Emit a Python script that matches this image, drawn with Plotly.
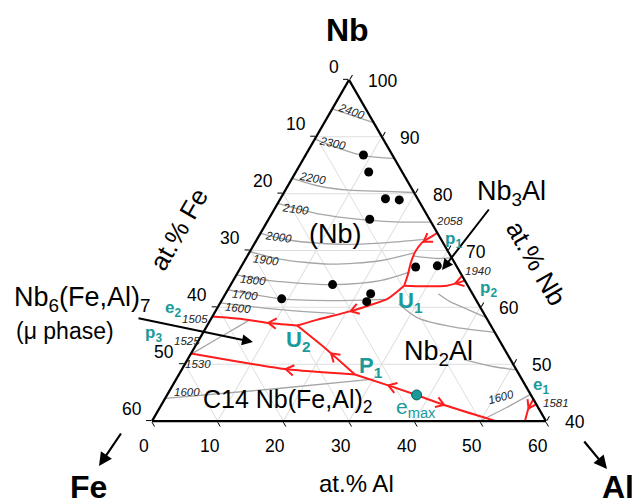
import math
import plotly.graph_objects as go

W, H = 632, 504
FONT = "Liberation Sans, Arial, sans-serif"
RED = "#ff1c1c"
TEAL = "#1b9a9a"
GREY = "#a6a6a6"
GRID = "#dedede"

# ---------------- axis ticks (at.%) ----------------
fe_ticks = [0, 10, 20, 30, 40, 50, 60]
nb_ticks = [100, 90, 80, 70, 60, 50, 40]
al_ticks = [0, 10, 20, 30, 40, 50, 60]

# ---------------- alloy compositions (at.%) ----------------
alloy_nb = [86.8, 83.8, 79.1, 78.9, 75.5, 67.1, 67.3, 64.0, 61.5, 62.4, 61.0]
alloy_fe = [4.4, 5.1, 4.9, 2.9, 9.1, 6.3, 2.9, 20.5, 29.5, 15.5, 16.8]
alloy_al = [8.8, 11.1, 16.0, 18.2, 15.4, 26.6, 29.8, 15.5, 9.0, 22.1, 22.2]

# saddle point on the C14 / Nb2Al valley
emax_nb, emax_fe, emax_al = [44.6], [17.4], [38.0]

# ---------------- monovariant valleys, ordered with falling temperature ----------------
p1_u1_nb = [73.1, 72.3, 71.3, 69.8, 67.8, 65.7, 63.8]
p1_u1_fe = [0.0, 1.5, 3.3, 5.0, 6.7, 8.2, 9.7]
p1_u1_al = [26.9, 26.2, 25.4, 25.2, 25.5, 26.1, 26.5]

p2_u1_nb = [64.7, 63.8, 63.7, 63.8]
p2_u1_fe = [0.0, 3.2, 6.9, 9.7]
p2_u1_al = [35.3, 33.0, 29.4, 26.5]

u1_u2_nb = [63.8, 61.6, 60.2, 59.3, 57.8, 56.8]
u1_u2_fe = [9.7, 13.2, 17.2, 20.2, 26.0, 29.5]
u1_u2_al = [26.5, 25.2, 22.6, 20.5, 16.2, 13.7]

u2_e2_nb = [56.8, 57.3, 58.0, 58.4]
u2_e2_fe = [29.5, 33.9, 37.6, 41.6]
u2_e2_al = [13.7, 8.8, 4.4, 0.0]

P1_u2_nb = [48.2, 52.6, 56.8]
P1_u2_fe = [25.0, 27.1, 29.5]
P1_u2_al = [26.8, 20.3, 13.7]

P1_p3_nb = [48.2, 49.1, 50.4, 51.9]
P1_p3_fe = [25.0, 34.9, 41.4, 48.1]
P1_p3_al = [26.8, 16.0, 8.2, 0.0]

emax_P1_nb = [44.6, 46.2, 48.2]
emax_P1_fe = [17.4, 20.7, 25.0]
emax_P1_al = [38.0, 33.1, 26.8]

emax_out_nb = [44.6, 42.7, 40.0]
emax_out_fe = [17.4, 13.8, 7.6]
emax_out_al = [38.0, 43.5, 52.4]

e1_nb = [43.85, 42.1, 40.0]
e1_fe = [0.0, 1.65, 3.2]
e1_al = [56.15, 56.25, 56.8]

# position of the flow arrow along each valley (fraction of its length)
valleys = [
    (p1_u1_nb, p1_u1_fe, p1_u1_al, 0.25),
    (p2_u1_nb, p2_u1_fe, p2_u1_al, 0.16),
    (u1_u2_nb, u1_u2_fe, u1_u2_al, 0.52),
    (u2_e2_nb, u2_e2_fe, u2_e2_al, 0.34),
    (P1_u2_nb, P1_u2_fe, P1_u2_al, 0.42),
    (P1_p3_nb, P1_p3_fe, P1_p3_al, 0.42),
    (emax_P1_nb, emax_P1_fe, emax_P1_al, 0.46),
    (emax_out_nb, emax_out_fe, emax_out_al, 0.35),
    (e1_nb, e1_fe, e1_al, 0.45),
]

# ---------------- liquidus isotherms ----------------
iso_2400 = ([94.9, 93.6, 92.5], [5.1, 2.3, 0.0], [0.0, 4.1, 7.5])
iso_2300 = ([89.6, 87.9, 86.7, 86.2], [10.4, 7.4, 4.5, 0.0], [0.0, 4.7, 8.8, 13.8])
iso_2200 = ([82.7, 81.3, 80.6, 80.4, 80.2], [17.3, 13.8, 9.6, 4.3, 0.0], [0.0, 4.9, 9.8, 15.3, 19.8])
iso_2100 = ([78.3, 76.4, 75.3, 75.0, 75.0], [21.7, 16.2, 9.1, 4.7, 0.0], [0.0, 7.4, 15.6, 20.3, 25.0])
iso_2000 = ([73.0, 71.8, 71.1, 71.3, 72.0], [27.0, 23.1, 15.8, 9.6, 2.1], [0.0, 5.1, 13.1, 19.1, 25.9])
iso_1900 = ([69.8, 68.5, 67.6, 68.2, 69.6], [30.2, 26.3, 19.1, 11.2, 5.3], [0.0, 5.2, 13.3, 20.6, 25.1])
iso_1800 = ([65.7, 64.7, 64.0, 64.7, 66.2], [34.3, 29.7, 20.4, 12.9, 7.7], [0.0, 5.6, 15.6, 22.4, 26.1])
iso_1700 = ([63.1, 61.5, 61.2, 61.4], [36.9, 29.4, 20.8, 13.8], [0.0, 9.1, 18.0, 24.8])
iso_1600 = ([60.8, 59.6, 58.9], [39.2, 30.7, 22.7], [0.0, 9.7, 18.4])
iso_nb3al = ([69.0, 68.6, 68.7], [5.6, 2.5, 0.0], [25.4, 28.9, 31.3])
iso_nb2al_a = ([62.4, 61.0, 59.7, 58.2], [5.2, 4.1, 2.2, 0.0], [32.4, 34.9, 38.1, 41.8])
iso_nb2al_b = ([60.6, 58.1, 56.6, 55.6], [12.1, 10.4, 6.1, 0.0], [27.3, 31.5, 37.3, 44.4])
iso_nb2al_c = ([50.8, 49.6, 49.0], [7.1, 3.3, 0.0], [42.1, 47.1, 51.0])
iso_c14 = ([44.0, 45.6, 47.4], [56.0, 39.2, 22.6], [0.0, 15.2, 30.0])
iso_mu = ([51.7, 54.8, 57.8], [48.3, 42.2, 36.2], [0.0, 3.0, 6.0])
iso_al_rich = ([40.0, 42.4, 44.7], [10.1, 4.8, 0.0], [49.9, 52.8, 55.3])
isotherms = [iso_2400, iso_2300, iso_2200, iso_2100, iso_2000, iso_1900, iso_1800,
             iso_1700, iso_1600, iso_nb3al, iso_nb2al_a, iso_nb2al_b, iso_nb2al_c,
             iso_c14, iso_mu, iso_al_rich]

# ---------------- ternary frame geometry ----------------
DOM_X = [152 / W, 546 / W]
DOM_Y = [1 - 422 / H, 1 - 79 / H]
SIDE_PX = (DOM_X[1] - DOM_X[0]) * W
PX_PER_UNIT = SIDE_PX / 60.0          # the visible triangle spans 60 at.%
S3 = math.sqrt(3)
CX = (DOM_X[0] + DOM_X[1]) / 2 * W
BOTTOM = (1 - (DOM_Y[0] + DOM_Y[1]) / 2) * H + SIDE_PX * S3 / 4


def to_xy(nb, fe, al):
    s = nb + fe + al
    nb, fe, al = 100 * nb / s, 100 * fe / s, 100 * al / s
    return (al - fe) / 2.0, nb * S3 / 2.0


def to_abc(x, y):
    nb = 2 * y / S3
    rest = 100 - nb
    return nb, (rest - 2 * x) / 2.0, (rest + 2 * x) / 2.0


def to_px(nb, fe, al):
    """Screen position (pixels, y downwards) of a composition in the frame."""
    x, y = to_xy(nb, fe, al)
    return CX + x * PX_PER_UNIT, BOTTOM - (y - 40 * S3 / 2) * PX_PER_UNIT


def chevron(nbs, fes, als, frac, wing_px=9.5, half_angle=33.0):
    pts = [to_xy(a, b, c) for a, b, c in zip(nbs, fes, als)]
    seg = [math.dist(pts[i], pts[i + 1]) for i in range(len(pts) - 1)]
    target = frac * sum(seg)
    acc = 0.0
    for i, L in enumerate(seg):
        if acc + L >= target or i == len(seg) - 1:
            t = (target - acc) / L
            (x0, y0), (x1, y1) = pts[i], pts[i + 1]
            tip = (x0 + t * (x1 - x0), y0 + t * (y1 - y0))
            ux, uy = (x1 - x0) / L, (y1 - y0) / L
            break
        acc += L
    wl = wing_px / PX_PER_UNIT
    out = []
    for sgn in (1, -1):
        ang = math.radians(sgn * half_angle)
        bx = -(ux * math.cos(ang) - uy * math.sin(ang))
        by = -(ux * math.sin(ang) + uy * math.cos(ang))
        out.append((tip[0] + wl * bx, tip[1] + wl * by))
    return [to_abc(*out[0]), to_abc(*tip), to_abc(*out[1])]


fig = go.Figure()

# isotherms
for nbs, fes, als in isotherms:
    fig.add_trace(go.Scatterternary(
        a=nbs, b=fes, c=als, mode="lines",
        line=dict(color=GREY, width=1.3, shape="spline", smoothing=0.8),
        hoverinfo="skip", showlegend=False))

# valleys and flow chevrons
chev_a, chev_b, chev_c = [], [], []
for nbs, fes, als, frac in valleys:
    fig.add_trace(go.Scatterternary(
        a=nbs, b=fes, c=als, mode="lines",
        line=dict(color=RED, width=2, shape="spline", smoothing=0.6),
        hoverinfo="skip", showlegend=False))
    for a, b, c in chevron(nbs, fes, als, frac):
        chev_a.append(a); chev_b.append(b); chev_c.append(c)
    chev_a.append(None); chev_b.append(None); chev_c.append(None)
fig.add_trace(go.Scatterternary(
    a=chev_a, b=chev_b, c=chev_c, mode="lines", connectgaps=False,
    line=dict(color=RED, width=2), hoverinfo="skip", showlegend=False))

# alloys
fig.add_trace(go.Scatterternary(
    a=alloy_nb, b=alloy_fe, c=alloy_al, mode="markers",
    marker=dict(color="black", size=9), showlegend=False))
fig.add_trace(go.Scatterternary(
    a=emax_nb, b=emax_fe, c=emax_al, mode="markers",
    marker=dict(color=TEAL, size=10, line=dict(color="#0d5c5c", width=1)),
    showlegend=False))

axis_common = dict(
    showticklabels=False, ticks="outside", ticklen=5, tickwidth=1, tickcolor="black",
    linecolor="black", linewidth=2.2, showgrid=True, gridcolor=GRID, gridwidth=1,
    title=dict(text=""), dtick=10,
)

fig.update_layout(
    width=W, height=H,
    margin=dict(l=0, r=0, t=0, b=0),
    paper_bgcolor="white",
    font=dict(family=FONT, color="black"),
    ternary=dict(
        sum=100, bgcolor="white",
        domain=dict(x=DOM_X, y=DOM_Y),
        aaxis=dict(min=40, **axis_common),
        baxis=dict(min=0, **axis_common),
        caxis=dict(min=0, **axis_common),
    ),
)


def px(x):
    return x / W


def py(y):
    return 1 - y / H


notes = []


def note(text, x, y, size, color="black", angle=0, xanchor="center", italic=False):
    f = dict(family=FONT, size=size, color=color)
    if italic:
        f["style"] = "italic"
    notes.append(dict(text=text, x=px(x), y=py(y), xref="paper", yref="paper",
                      xanchor=xanchor, yanchor="middle", showarrow=False,
                      font=f, textangle=angle, borderpad=0))


def arrow(x0, y0, x1, y1, width=2.2, size=1.2):
    notes.append(dict(text="", x=px(x1), y=py(y1), xref="paper", yref="paper",
                      ax=x0 - x1, ay=y0 - y1, showarrow=True, arrowhead=2,
                      arrowsize=size, arrowwidth=width, arrowcolor="black"))


# tick labels sit on the outward extension of each grid line
TICK = 17.5
for v in fe_ticks:
    x, y = to_px(100 - v, v, 0)
    note(str(v), x - 9.5, y - 12.5, TICK, xanchor="right")
for v in nb_ticks:
    x, y = to_px(v, 0, 100 - v)
    note(str(v), x + 17.5, y + 1, TICK, xanchor="left")
for v in al_ticks:
    x, y = to_px(40, 60 - v, v)
    note(str(v), x - 8, y + 25, TICK)

# corner elements and axis captions
note("<b>Nb</b>", 347, 30, 32)
note("<b>Fe</b>", 88, 487, 32)
note("<b>Al</b>", 618, 487, 32)
note("at.% Al", 356, 483, 24)
note("at.% Fe", 179, 229, 26, angle=-60)
note("at.% Nb", 536, 263, 26, angle=60)
arrow(122, 432, 99, 466)
arrow(583, 440, 607, 469)

# phase fields
note("(Nb)", 336, 234, 27)
note("Nb<sub>3</sub>Al", 511, 193, 27)
note("Nb<sub>2</sub>Al", 438, 353, 27)
note("C14 Nb(Fe,Al)<sub>2</sub>", 288, 401, 25)
note("Nb<sub>6</sub>(Fe,Al)<sub>7</sub>", 82, 299, 27)
note("(\u03bc phase)", 65, 331, 23)
arrow(490, 208, 442, 270, width=2, size=1.1)
arrow(137, 318, 253, 342, width=2, size=1.1)

# invariant points
note("<b>p<sub>1</sub></b>", 453, 240, 17, TEAL)
note("<b>p<sub>2</sub></b>", 488, 289, 17, TEAL)
note("<b>U<sub>1</sub></b>", 410, 302, 22, TEAL)
note("<b>U<sub>2</sub></b>", 298, 341, 22, TEAL)
note("<b>P<sub>1</sub></b>", 371, 367, 22, TEAL)
note("e<sub>max</sub>", 416, 408, 21, TEAL)
note("<b>e<sub>1</sub></b>", 541, 386, 17, TEAL)
note("<b>e<sub>2</sub></b>", 173, 309, 17, TEAL)
note("<b>p<sub>3</sub></b>", 153, 334, 17, TEAL)

# temperatures (deg C)
for t, x, y, ang in [
    ("2400", 351, 111, 20), ("2300", 332, 143, 12), ("2200", 312, 178, 10),
    ("2100", 295, 209, 8), ("2000", 278, 237, 8), ("1900", 266, 260, 8),
    ("1800", 253, 280, 6), ("1700", 245, 295, 6), ("1600", 238, 308, 6),
    ("2058", 449, 221, 0), ("1940", 478, 271, 0), ("1505", 195, 319, 0),
    ("1525", 187, 341, 0), ("1530", 198, 364, 0), ("1600", 187, 392, 0),
    ("1600", 501, 397, -15), ("1581", 556, 403, 0),
]:
    note(t, x, y, 11.5, "#222222", angle=ang, italic=True)

fig.update_layout(annotations=notes)
fig.write_html("out.html")
